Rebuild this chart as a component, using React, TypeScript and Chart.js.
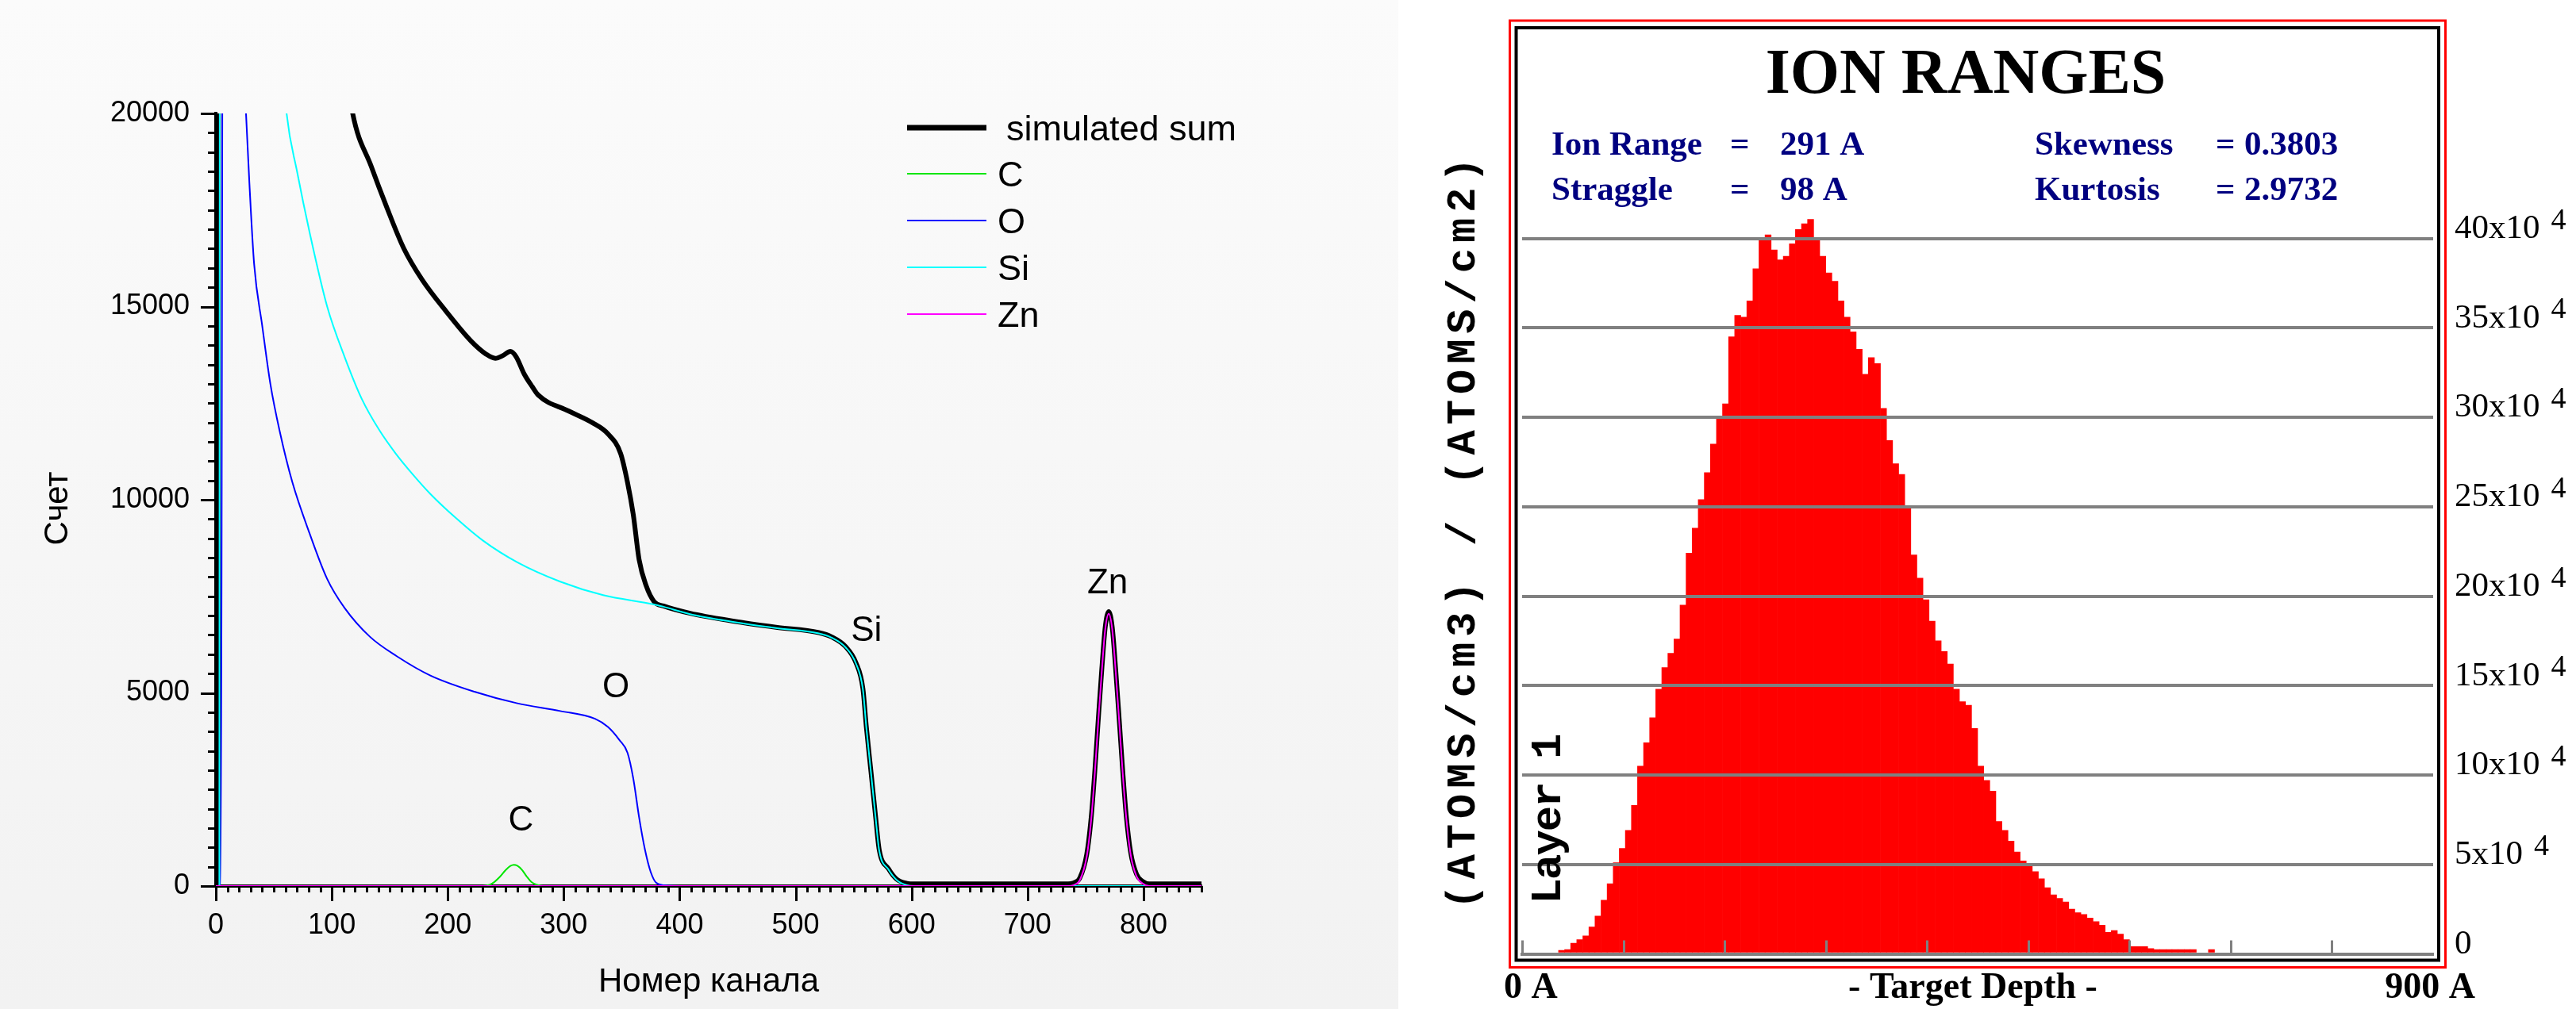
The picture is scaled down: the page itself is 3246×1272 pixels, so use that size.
import React, { useEffect, useRef } from 'react';
import { Chart, registerables } from 'chart.js';

Chart.register(...registerables);

const SANS = '"Liberation Sans", Arial, sans-serif';
const SERIF = '"Liberation Serif", "Times New Roman", serif';
const MONO = '"Liberation Mono", "Courier New", monospace';

// ================= Left chart: RBS spectrum (channel, counts) =================
const sumSpectrum: [number, number][] = [
  [0, 0], [2, 0], [3.5, 160000], [30, 70000], [60, 40000], [90, 26000], [118, 20000], [134, 18630],
  [147, 17600], [162, 16510], [178, 15690], [199, 14860], [220, 14110], [233, 13770], [241, 13660],
  [248, 13740], [254, 13840], [259, 13700], [266, 13250], [273, 12920], [278, 12710], [304, 12300],
  [325, 11990], [338, 11710], [349, 11200], [355, 10450], [360, 9610], [365, 8450], [371, 7780],
  [378, 7360], [386, 7250], [409, 7060], [446, 6860], [483, 6700], [520, 6560], [531, 6450],
  [543, 6200], [552, 5780], [558, 5110], [561, 4110], [565, 2950], [569, 1780], [572, 950],
  [580, 450], [587, 180], [596, 70], [602, 55], [735, 55], [740, 85], [745, 205], [751, 815],
  [755, 1815], [758, 2975], [761, 4325], [764, 5605], [767, 6705], [770, 7105], [773, 6705],
  [776, 5605], [779, 4325], [782, 3005], [785, 1855], [789, 855], [794, 305], [799, 125], [805, 55], [850, 55],
];
const cSpectrum: [number, number][] = [
  [0, 0], [230, 0], [236, 30], [240, 100], [245, 240], [250, 415], [254, 520], [257, 550],
  [260, 525], [264, 420], [268, 250], [272, 110], [277, 30], [282, 0], [850, 0],
];
const oSpectrum: [number, number][] = [
  [0, 0], [4, 0], [8, 60000], [15, 32000], [20, 25000], [26, 20000], [29, 18150], [33, 16100],
  [40, 14500], [47, 13000], [55, 11780], [66, 10450], [81, 9115], [96, 7950], [111, 7200],
  [133, 6450], [156, 5950], [185, 5450], [223, 5030], [260, 4730], [297, 4530], [327, 4330],
  [338, 4120], [348, 3780], [355, 3450], [360, 2780], [365, 1780], [370, 950], [375, 365],
  [380, 80], [390, 10], [400, 0], [850, 0],
];
const siSpectrum: [number, number][] = [
  [0, 0], [3, 0], [5, 120000], [20, 45000], [40, 28000], [61, 20000], [70, 18500], [81, 16900],
  [96, 15000], [111, 13700], [126, 12600], [141, 11800], [155, 11200], [170, 10650], [185, 10150],
  [208, 9500], [230, 8950], [260, 8380], [297, 7880], [334, 7530], [378, 7290], [386, 7230],
  [409, 7040], [446, 6840], [483, 6680], [520, 6540], [531, 6430], [543, 6180], [552, 5760],
  [558, 5090], [561, 4090], [565, 2930], [569, 1760], [572, 930], [580, 430], [587, 160],
  [596, 20], [602, 0], [850, 0],
];
const znSpectrum: [number, number][] = [
  [0, 0], [735, 0], [740, 30], [745, 150], [751, 760], [755, 1760], [758, 2920], [761, 4270],
  [764, 5550], [767, 6650], [770, 7050], [773, 6650], [776, 5550], [779, 4270], [782, 2950],
  [785, 1800], [789, 800], [794, 250], [799, 70], [805, 0], [850, 0],
];
const seriesNames = ['simulated sum', 'C', 'O', 'Si', 'Zn'];
const seriesColors = ['#000000', '#00e600', '#0000ff', '#00ffff', '#ff00ff'];
const peakLabels = ['C', 'O', 'Si', 'Zn'];
const peakLabelChannels = [263, 345, 561, 769];
const peakLabelCounts = [1680, 5130, 6600, 7820];
const channelMax = 850;
const countsMax = 20000;

// ================= Right chart: TRIM ion ranges (6 Å bins, x10^4) =================
const depthBinWidth = 6;
const ionCounts = [
  0, 0, 0, 0, 0, 0, 0.2, 0.24, 0.59, 0.8,
  1.0, 1.5, 2.11, 3.0, 3.92, 5.1, 5.9, 6.9, 8.3, 10.5,
  11.8, 13.2, 14.8, 16.0, 16.8, 17.6, 19.5, 22.4, 23.8, 25.4,
  26.9, 28.5, 30.0, 30.75, 34.5, 35.7, 35.6, 36.5, 38.3, 39.9,
  40.2, 39.35, 38.8, 39.0, 39.7, 40.5, 40.82, 41.06, 39.9, 39.0,
  38.07, 37.6, 36.5, 35.6, 34.77, 33.8, 32.4, 33.33, 33.0, 30.5,
  28.7, 27.4, 26.8, 25.0, 22.3, 21.0, 19.8, 18.6, 17.5, 16.9,
  16.2, 14.8, 14.1, 13.9, 12.6, 10.5, 9.7, 9.1, 7.4, 6.9,
  6.3, 5.7, 5.2, 4.9, 4.6, 4.2, 3.7, 3.3, 3.1, 2.9,
  2.5, 2.3, 2.2, 2.0, 1.8, 1.6, 1.2, 1.3, 1.1, 0.8,
  0.41, 0.41, 0.41, 0.3, 0.24, 0.24, 0.24, 0.24, 0.24, 0.24,
  0.24, 0, 0, 0.24, 0, 0, 0, 0, 0, 0,
  0, 0, 0, 0, 0, 0, 0, 0, 0, 0,
  0, 0, 0, 0, 0, 0, 0, 0, 0, 0,
  0, 0, 0, 0, 0, 0, 0, 0, 0, 0,
];
const depthTicks = [0, 100, 200, 300, 400, 500, 600, 700, 800];
const statNames = ['Ion Range', 'Straggle', 'Skewness', 'Kurtosis'];
const statValues = ['291 A', '98 A', '0.3803', '2.9732'];
const depthMax = 900;
const ionMax = 45;

const LEFT_W = 1762;
const RIGHT_X = 1764;
const RIGHT_W = 3246 - RIGHT_X;

const leftPlugin = {
  id: 'leftDecor',
  afterDraw(chart: any) {
    const ctx = chart.ctx;
    const xs = chart.scales.x;
    const ys = chart.scales.y;
    const ca = chart.chartArea;
    ctx.save();
    ctx.strokeStyle = '#000';
    ctx.lineWidth = 3;
    for (let v = 0; v <= countsMax; v += 500) {
      const py = Math.round(ys.getPixelForValue(v)) + 0.5;
      const len = v % 5000 === 0 ? 19 : 10;
      ctx.beginPath();
      ctx.moveTo(ca.left - len, py);
      ctx.lineTo(ca.left, py);
      ctx.stroke();
    }
    for (let v = 0; v <= channelMax; v += 10) {
      const px = Math.round(xs.getPixelForValue(v)) + 0.5;
      const len = v % 100 === 0 ? 19 : 8;
      ctx.beginPath();
      ctx.moveTo(px, ca.bottom);
      ctx.lineTo(px, ca.bottom + len);
      ctx.stroke();
    }
    // legend
    const ds = chart.data.datasets;
    const rows = [161, 219, 278, 337, 396];
    ds.forEach((d: any, i: number) => {
      ctx.strokeStyle = d.borderColor;
      ctx.lineWidth = i === 0 ? 7 : 2;
      ctx.beginPath();
      ctx.moveTo(1143, rows[i]);
      ctx.lineTo(1243, rows[i]);
      ctx.stroke();
      ctx.fillStyle = '#000';
      ctx.font = `45px ${SANS}`;
      ctx.textAlign = 'left';
      ctx.textBaseline = 'alphabetic';
      ctx.fillText(d.label, i === 0 ? 1268 : 1257, rows[i] + 16);
    });
    // peak labels
    ctx.font = `44px ${SANS}`;
    ctx.textAlign = 'center';
    ctx.textBaseline = 'middle';
    peakLabels.forEach((t, i) => {
      ctx.fillText(t, xs.getPixelForValue(peakLabelChannels[i]), ys.getPixelForValue(peakLabelCounts[i]));
    });
    // y title
    ctx.translate(85, 641);
    ctx.rotate(-Math.PI / 2);
    ctx.font = `42px ${SANS}`;
    ctx.textAlign = 'center';
    ctx.textBaseline = 'alphabetic';
    ctx.fillText('Счет', 0, 0);
    ctx.restore();
  },
};

function LeftChart() {
  const ref = useRef<HTMLCanvasElement>(null);
  useEffect(() => {
    const series = [sumSpectrum, cSpectrum, oSpectrum, siSpectrum, znSpectrum];
    const chart = new Chart(ref.current as HTMLCanvasElement, {
      type: 'line',
      data: {
        datasets: series.map((s, i) => ({
          label: seriesNames[i],
          data: s.map(([x, y]) => ({ x, y })),
          borderColor: seriesColors[i],
          backgroundColor: seriesColors[i],
          borderWidth: i === 0 ? 6 : 2,
          order: 5 - i,
          fill: false,
          pointRadius: 0,
          cubicInterpolationMode: 'monotone',
          borderJoinStyle: 'round',
        })),
      },
      options: {
        responsive: false,
        animation: false,
        devicePixelRatio: 1,
        events: [],
        layout: { padding: { left: 0, top: 143, right: 248, bottom: 0 } },
        plugins: { legend: { display: false }, tooltip: { enabled: false } },
        scales: {
          x: {
            type: 'linear', min: 0, max: channelMax,
            afterFit: (s: any) => { s.height = 155; },
            ticks: {
              stepSize: 100, includeBounds: false, autoSkip: false, maxRotation: 0,
              font: { family: SANS, size: 36 }, color: '#000', padding: 9,
              callback: (v: any) => String(v),
            },
            grid: { display: false, drawTicks: true, tickLength: 19 },
            border: { display: true, color: '#000', width: 4 },
            title: { display: true, text: 'Номер канала', font: { family: SANS, size: 42 }, color: '#000', padding: { top: 0, bottom: 8 } },
          },
          y: {
            type: 'linear', min: 0, max: countsMax,
            afterFit: (s: any) => { s.width = 272; },
            ticks: {
              stepSize: 5000, autoSkip: false,
              font: { family: SANS, size: 36 }, color: '#000', padding: 14,
              callback: (v: any) => String(v),
            },
            grid: { display: false, drawTicks: true, tickLength: 19 },
            border: { display: true, color: '#000', width: 4 },
          },
        },
      } as any,
      plugins: [leftPlugin],
    });
    return () => chart.destroy();
  }, []);
  return <canvas ref={ref} width={LEFT_W} height={1272} style={{ position: 'absolute', left: 0, top: 0 }} />;
}

const rightPlugin = {
  id: 'rightDecor',
  afterDraw(chart: any) {
    const ctx = chart.ctx;
    const xs = chart.scales.x;
    const ys = chart.scales.y;
    const ca = chart.chartArea;
    const ox = RIGHT_X;
    ctx.save();
    // depth tick marks (upward)
    ctx.strokeStyle = '#808080';
    ctx.lineWidth = 3;
    depthTicks.forEach((v) => {
      const px = Math.round(xs.getPixelForValue(v)) + 0.5;
      ctx.beginPath();
      ctx.moveTo(px, ca.bottom);
      ctx.lineTo(px, ca.bottom - 17);
      ctx.stroke();
    });
    // superscript exponents
    ctx.fillStyle = '#000';
    ctx.textAlign = 'left';
    ctx.textBaseline = 'alphabetic';
    for (let v = 5; v <= 40; v += 5) {
      ctx.font = `43px ${SERIF}`;
      const w = ctx.measureText(`${v}x10`).width;
      const py = ys.getPixelForValue(v);
      ctx.font = `38px ${SERIF}`;
      ctx.fillText('4', ys.left + 27 + w + 14, py - 12);
    }
    // frames
    ctx.strokeStyle = '#ff0000';
    ctx.lineWidth = 3;
    ctx.strokeRect(1902.5 - ox, 26, 3081.5 - 1902.5, 1219.5 - 26);
    ctx.strokeStyle = '#000';
    ctx.lineWidth = 4;
    ctx.strokeRect(1910.5 - ox, 35, 3073 - 1910.5, 1210.5 - 35);
    // title
    ctx.fillStyle = '#000';
    ctx.font = `bold 80px ${SERIF}`;
    ctx.textAlign = 'center';
    ctx.fillText('ION RANGES', 2477 - ox, 117);
    // stats
    ctx.fillStyle = '#000080';
    ctx.font = `bold 43px ${SERIF}`;
    ctx.textAlign = 'left';
    const rowsY = [195, 252];
    const cols = [[1955, 2180, 2243], [2564, 2792, 2828]];
    statNames.forEach((n, i) => {
      const c = cols[Math.floor(i / 2)];
      const y = rowsY[i % 2];
      ctx.fillText(n, c[0] - ox, y);
      ctx.fillText('=', c[1] - ox, y);
      ctx.fillText(statValues[i], c[2] - ox, y);
    });
    // bottom labels
    ctx.fillStyle = '#000';
    ctx.font = `bold 46px ${SERIF}`;
    ctx.textAlign = 'left';
    ctx.fillText('0 A', 1895 - ox, 1258);
    ctx.textAlign = 'center';
    ctx.fillText('- Target Depth -', 2486 - ox, 1258);
    ctx.textAlign = 'right';
    ctx.fillText('900 A', 3119 - ox, 1258);
    // Layer 1
    ctx.save();
    ctx.translate(1966 - ox, 1033);
    ctx.rotate(-Math.PI / 2);
    ctx.font = `bold 54px ${MONO}`;
    (ctx as any).letterSpacing = '-2px';
    ctx.textAlign = 'center';
    ctx.fillText('Layer 1', 0, 0);
    ctx.restore();
    // y title
    ctx.save();
    ctx.translate(1858 - ox, 669);
    ctx.rotate(-Math.PI / 2);
    ctx.font = `bold 52px ${MONO}`;
    (ctx as any).letterSpacing = '7px';
    ctx.textAlign = 'center';
    ctx.fillText('(ATOMS/cm3) / (ATOMS/cm2)', 0, 0);
    ctx.restore();
    ctx.restore();
  },
};

function RightChart() {
  const ref = useRef<HTMLCanvasElement>(null);
  useEffect(() => {
    const data = ionCounts.map((v, i) => ({ x: i * depthBinWidth + depthBinWidth / 2, y: v }));
    const chart = new Chart(ref.current as HTMLCanvasElement, {
      type: 'bar',
      data: {
        datasets: [{
          label: 'Ion ranges',
          data,
          backgroundColor: '#ff0000',
          borderWidth: 0,
          barPercentage: 1,
          categoryPercentage: 1,
        }],
      },
      options: {
        responsive: false,
        animation: false,
        devicePixelRatio: 1,
        events: [],
        layout: { padding: { left: 154, top: 187.75, right: 0, bottom: 0 } },
        plugins: { legend: { display: false }, tooltip: { enabled: false } },
        scales: {
          x: {
            type: 'linear', min: 0, max: depthMax, offset: false,
            afterFit: (s: any) => { s.height = 69.5; },
            ticks: { display: false },
            grid: { display: false, drawTicks: false, offset: false },
            border: { display: true, color: '#808080', width: 4, z: 1 },
          },
          y: {
            type: 'linear', position: 'right', min: 0, max: ionMax,
            afterFit: (s: any) => { s.width = 180; },
            ticks: {
              stepSize: 5, autoSkip: false, padding: 27, labelOffset: -12,
              font: { family: SERIF, size: 43 }, color: '#000',
              callback: (v: any) => (v === 0 ? '0' : v <= 40 ? `${v}x10` : ''),
            },
            grid: {
              display: true, drawTicks: false, lineWidth: 4, z: 1,
              color: (c: any) => (c.tick && c.tick.value >= 5 && c.tick.value <= 40 ? '#808080' : 'rgba(0,0,0,0)'),
            },
            border: { display: false },
          },
        },
      } as any,
      plugins: [rightPlugin],
    });
    return () => chart.destroy();
  }, []);
  return <canvas ref={ref} width={RIGHT_W} height={1272} style={{ position: 'absolute', left: RIGHT_X, top: 0 }} />;
}

export default function App() {
  return (
    <div style={{ position: 'fixed', left: 0, top: 0, width: 3246, height: 1272, background: '#ffffff', overflow: 'hidden' }}>
      <div style={{ position: 'absolute', left: 0, top: 0, width: LEFT_W, height: 1272, background: 'linear-gradient(to bottom, #fbfbfb 0%, #f2f2f2 100%)' }} />
      <LeftChart />
      <RightChart />
    </div>
  );
}
